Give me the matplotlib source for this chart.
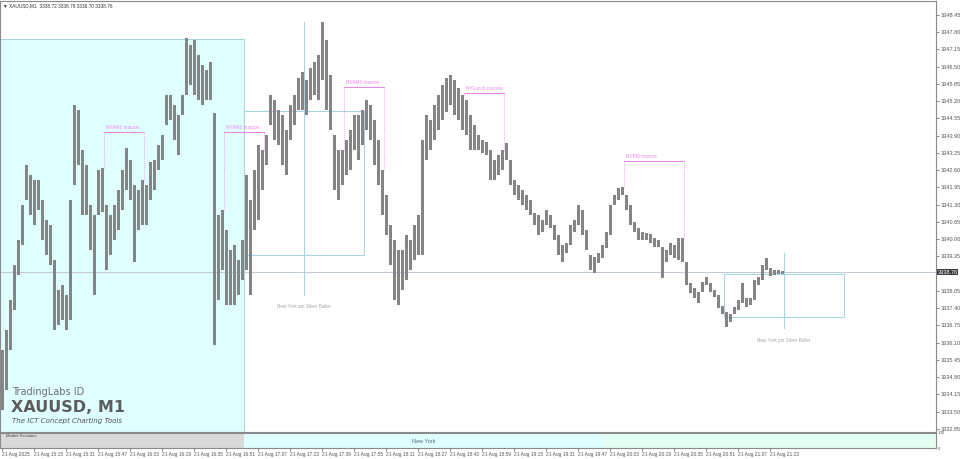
import numpy as np
import matplotlib.pyplot as plt
from matplotlib.patches import Rectangle

# XAUUSD M1, 21 Aug 2025 - bars at 2 minute steps
# index 0 = 14:59, index unit = 1 minute
bar_step = 2
bar_high = [
    3335.83, 3336.58, 3337.71, 3339.03, 3339.97, 3341.29, 3342.80, 3342.42, 3342.23, 3342.23,
    3341.48, 3340.72, 3340.54, 3339.22, 3338.09, 3338.28, 3337.90, 3341.48, 3345.06, 3344.87,
    3343.36, 3342.80, 3341.29, 3340.91, 3342.61, 3342.69, 3341.29, 3340.91, 3341.29, 3341.86,
    3342.61, 3343.44, 3342.98, 3342.04, 3341.86, 3342.23, 3342.04, 3342.91, 3342.98, 3343.55,
    3343.93, 3345.43, 3345.43, 3345.06, 3344.68, 3345.43, 3347.58, 3347.32, 3347.51, 3346.94,
    3346.57, 3346.38, 3346.68, 3344.76, 3340.91, 3341.10, 3340.35, 3339.60, 3339.78, 3339.22,
    3339.97, 3342.42, 3341.48, 3342.61, 3343.55, 3343.36, 3343.93, 3345.43, 3345.25, 3344.87,
    3344.68, 3344.12, 3345.06, 3345.43, 3346.08, 3346.30, 3346.00, 3346.45, 3346.68, 3346.94,
    3348.19, 3347.51, 3346.19, 3343.93, 3343.36, 3343.36, 3343.74, 3344.12, 3344.68, 3344.68,
    3344.87, 3345.25, 3345.06, 3344.49, 3343.74, 3342.61, 3341.67, 3340.54, 3339.97, 3339.60,
    3339.60, 3340.16, 3339.97, 3340.54, 3340.91, 3343.74, 3344.68, 3344.49, 3345.06, 3345.43,
    3345.81, 3346.08, 3346.19, 3346.00, 3345.70, 3345.43, 3345.25, 3344.68, 3344.30, 3343.93,
    3343.74, 3343.66, 3343.36, 3342.98, 3343.17, 3343.36, 3343.63, 3342.98, 3342.23, 3342.04,
    3341.86, 3341.67, 3341.48, 3340.99, 3340.91, 3340.72, 3341.10, 3340.91, 3340.54, 3340.16,
    3339.78, 3339.86, 3340.54, 3340.72, 3341.29, 3341.10, 3340.35, 3339.41, 3339.33, 3339.48,
    3339.78, 3340.27, 3341.29, 3341.67, 3341.93, 3341.97, 3341.67, 3341.29, 3340.65, 3340.42,
    3340.27, 3340.24, 3340.20, 3340.05, 3339.97, 3339.71, 3339.60, 3339.86, 3339.78, 3340.05,
    3340.05, 3339.14, 3338.35, 3338.16, 3338.01, 3338.39, 3338.58, 3338.35, 3338.09, 3337.90,
    3337.49, 3337.26, 3337.18, 3337.45, 3337.71, 3338.35, 3337.79, 3337.79, 3338.46, 3338.58,
    3339.03, 3339.29, 3338.92, 3338.84, 3338.84, 3338.80,
]
bar_low = [
    3333.57, 3334.32, 3335.83, 3337.33, 3338.65, 3339.78, 3341.48, 3340.91, 3340.54, 3341.10,
    3339.97, 3339.41, 3339.03, 3336.58, 3336.77, 3336.96, 3336.58, 3336.96, 3342.04, 3342.80,
    3340.91, 3340.91, 3339.60, 3337.90, 3340.91, 3341.03, 3338.84, 3339.41, 3339.97, 3340.35,
    3341.10, 3341.86, 3341.48, 3339.14, 3340.35, 3340.54, 3340.54, 3341.48, 3341.86, 3342.61,
    3342.98, 3344.30, 3344.49, 3343.74, 3343.17, 3344.68, 3345.43, 3345.81, 3345.43, 3345.25,
    3345.06, 3345.25, 3345.25, 3336.02, 3337.71, 3338.84, 3337.52, 3337.52, 3337.52, 3337.90,
    3338.46, 3338.84, 3337.90, 3340.35, 3340.72, 3341.86, 3342.80, 3344.30, 3343.74, 3343.55,
    3342.80, 3342.42, 3343.74, 3344.30, 3344.87, 3344.87, 3344.68, 3345.25, 3345.43, 3345.25,
    3346.00, 3344.87, 3344.12, 3341.86, 3341.48, 3342.04, 3342.42, 3342.61, 3343.36, 3342.98,
    3343.55, 3344.12, 3343.74, 3342.80, 3342.04, 3340.91, 3340.16, 3339.03, 3337.71, 3337.52,
    3338.09, 3338.46, 3338.84, 3339.22, 3339.41, 3339.41, 3342.98, 3343.36, 3343.74, 3344.12,
    3344.49, 3344.80, 3345.06, 3344.68, 3344.49, 3344.12, 3343.93, 3343.36, 3343.36, 3343.36,
    3343.25, 3343.17, 3342.23, 3342.23, 3342.42, 3342.61, 3342.98, 3342.04, 3341.67, 3341.48,
    3341.29, 3341.10, 3340.91, 3340.54, 3340.16, 3340.27, 3340.54, 3340.42, 3339.97, 3339.41,
    3339.14, 3339.48, 3339.78, 3340.27, 3340.54, 3340.16, 3339.60, 3338.84, 3338.73, 3339.11,
    3339.29, 3339.67, 3340.16, 3341.29, 3341.48, 3341.67, 3341.10, 3340.54, 3340.27, 3339.97,
    3339.97, 3339.97, 3339.86, 3339.71, 3339.71, 3338.54, 3339.14, 3339.41, 3339.29, 3339.22,
    3339.14, 3338.28, 3337.97, 3337.79, 3337.60, 3338.01, 3338.28, 3338.01, 3337.82, 3337.41,
    3337.18, 3336.69, 3336.88, 3337.18, 3337.33, 3337.60, 3337.45, 3337.52, 3337.71, 3338.28,
    3338.46, 3338.84, 3338.62, 3338.65, 3338.69, 3338.69,
]

time_labels = ['21 Aug 2025', '21 Aug 15:15', '21 Aug 15:31', '21 Aug 15:47', '21 Aug 16:03',
               '21 Aug 16:19', '21 Aug 16:35', '21 Aug 16:51', '21 Aug 17:07', '21 Aug 17:23',
               '21 Aug 17:39', '21 Aug 17:55', '21 Aug 18:11', '21 Aug 18:27', '21 Aug 18:43',
               '21 Aug 18:59', '21 Aug 19:15', '21 Aug 19:31', '21 Aug 19:47', '21 Aug 20:03',
               '21 Aug 20:19', '21 Aug 20:35', '21 Aug 20:51', '21 Aug 21:07', '21 Aug 21:23']
label_step = 16

price_ticks = [3348.45, 3347.80, 3347.15, 3346.50, 3345.85, 3345.20, 3344.55, 3343.90,
               3343.25, 3342.60, 3341.95, 3341.30, 3340.65, 3340.00, 3339.35, 3338.70,
               3338.05, 3337.40, 3336.75, 3336.10, 3335.45, 3334.80, 3334.15, 3333.50, 3332.85]
last_price = 3338.76
title_text = 'XAUUSD,M1  3338.72 3338.76 3338.70 3338.76'

# session boxes (minutes from 14:59)
pre_box = (-1, 121, 3347.55)          # start, end, high
ny_session = (121, 301)
# silver bullet: start, end, top, bottom, line top, line bottom
am_sb = (121, 181, 3344.83, 3339.41, 3348.19, 3337.90)
pm_sb = (361, 421, 3338.69, 3337.07, 3339.48, 3336.65)
# macros
macro_names = ['NYAM1 macros', 'NYAM2 macros', 'NYAM3 macros', 'NYLunch macros', 'NYPM macros']
macro_start = [51, 111, 171, 231, 311]
macro_end = [71, 131, 191, 251, 341]
macro_top = [3344.04, 3344.04, 3345.75, 3345.51, 3342.95]

W, H = 960, 459
fig = plt.figure(figsize=(W / 100, H / 100), dpi=100)
fig.patch.set_facecolor('white')
small = 'Liberation Sans'

ax = fig.add_axes([0, 1 - 432 / H, 936 / W, 431 / H])
ax.set_xlim(-1, 467)
ax.set_ylim(3332.737, 3348.977)

cyan = '#e0ffff'
ax.add_patch(Rectangle((pre_box[0] - 2, 3320), pre_box[1] - pre_box[0] + 2, pre_box[2] - 3320,
                       facecolor=cyan, edgecolor='#9fd3dc', lw=0.7, zorder=0))

# current price line
ax.axhline(last_price, color='#c2ccd6', lw=0.8, zorder=1)

# silver bullet boxes
sb_col = '#a9d3e0'
for sb, name in [(am_sb, 'New York am Silver Bullet'), (pm_sb, 'New York pm Silver Bullet')]:
    s, e, top, bot, ltop, lbot = sb
    ax.add_patch(Rectangle((s, bot), e - s, top - bot, fill=False, edgecolor=sb_col, lw=0.8, zorder=1))
    mid = (s + e) / 2
    ax.plot([mid, mid], [lbot, ltop], color=sb_col, lw=0.8, zorder=1)
    ax.text(mid, lbot - 0.45, name, fontsize=3.3, family=small, color='#a8a8a8', ha='center', va='center')

hi = np.array(bar_high)
lo = np.array(bar_low)
x = np.arange(len(hi)) * bar_step

# macros: solid top, dotted sides down to the bar at each end
mac_col = '#ee82ee'
for name, s, e, top in zip(macro_names, macro_start, macro_end, macro_top):
    ax.plot([s, e], [top, top], color=mac_col, lw=0.7, zorder=1)
    for t in (s, e):
        ax.plot([t, t], [hi[t // bar_step], top], color=mac_col, lw=0.6, ls=(0, (1, 1.5)), zorder=1)
    ax.text(s + 1, top + 0.08, name, fontsize=3.4, family=small, color=mac_col, ha='left', va='bottom')

# price bars
ax.bar(x, hi - lo, bottom=lo, width=1.5, color='#858585', linewidth=0, zorder=3)

# axes styling
ax.set_xticks([])
ax.yaxis.tick_right()
ax.set_yticks(price_ticks)
ax.set_yticklabels(['' if abs(p - last_price) < 0.2 else '%.2f' % p for p in price_ticks])
ax.tick_params(axis='y', labelsize=4, length=2, width=0.5, pad=1.5, colors='#555555')
for lab in ax.get_yticklabels():
    lab.set_family(small)
for sp in ax.spines.values():
    sp.set_color('#8a8a8a')
    sp.set_linewidth(0.8)

# last price label
ax.text(1.0015, last_price, '%.2f' % last_price, transform=ax.get_yaxis_transform(), fontsize=4,
        family=small, color='white', ha='left', va='center',
        bbox=dict(boxstyle='square,pad=0.15', facecolor='#3c3c3c', edgecolor='none'))

# title and watermark
fig.text(3 / W, 1 - 5.5 / H, '\u25bc ' + title_text, fontsize=3.4, family=small, color='#333333',
         va='center', ha='left')
fig.text(12 / W, 1 - 392 / H, 'TradingLabs ID', fontsize=7, color='#6e6e6e', va='center', ha='left')
fig.text(11 / W, 1 - 408 / H, 'XAUUSD, M1', fontsize=11.5, weight='bold', color='#5c5c5c',
         va='center', ha='left')
fig.text(12 / W, 1 - 421 / H, 'The ICT Concept Charting Tools', fontsize=5, style='italic',
         color='#505050', va='center', ha='left')

# market sessions panel
axp = fig.add_axes([0, 1 - 448 / H, 936 / W, 15 / H])
axp.set_xlim(-1, 467)
axp.set_ylim(0, 100)
axp.axvspan(-1, ny_session[0], color='#d9d9d9', lw=0)
axp.axvspan(ny_session[0], ny_session[1], color=cyan, lw=0)
axp.axvspan(ny_session[1], 467, color='#e3fff3', lw=0)
axp.text((ny_session[0] + ny_session[1]) / 2, 45, 'New York', fontsize=4, family=small,
         color='#4a6d8c', ha='center', va='center')
axp.text(2, 80, 'Market Sessions', fontsize=3, family=small, color='#444444', ha='left', va='center')
axp.yaxis.tick_right()
axp.set_yticks([0, 100])
axp.set_yticklabels(['0', '100'])
axp.tick_params(axis='y', labelsize=3.2, length=0, pad=1.5, colors='#555555')
tick_x = np.arange(len(time_labels)) * label_step
axp.set_xticks(tick_x)
axp.set_xticklabels(time_labels, ha='left')
axp.tick_params(axis='x', labelsize=3.5, length=2, width=0.5, pad=1, colors='#555555')
for lab in axp.get_xticklabels() + axp.get_yticklabels():
    lab.set_family(small)
for sp in axp.spines.values():
    sp.set_color('#8a8a8a')
    sp.set_linewidth(0.8)

fig.savefig('out.png', dpi=100, facecolor='white')
